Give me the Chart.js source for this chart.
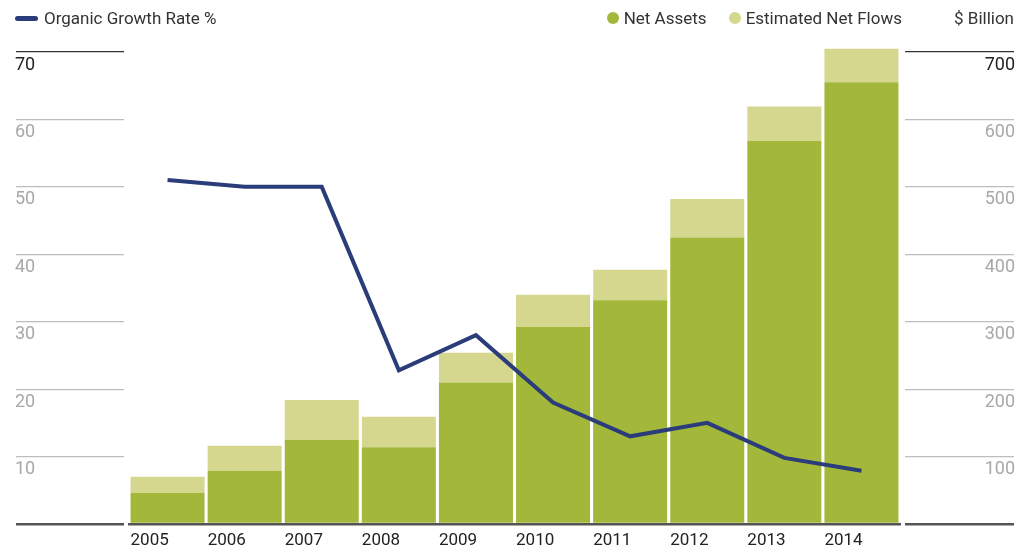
<!DOCTYPE html>
<html>
<head>
<meta charset="utf-8">
<script src="https://cdn.jsdelivr.net/npm/chart.js@4/dist/chart.umd.min.js"></script>
<style>
    html, body { margin: 0; padding: 0; background: #fff; }
    #wrap { position: relative; width: 1029px; height: 550px; font-family: 'Roboto', 'Liberation Sans', sans-serif; }
    #chart { position: absolute; left: 0; top: 0; }
    .legend { position: absolute; top: 8px; font-size: 17px; color: #333; display: flex; align-items: center; white-space: nowrap; }
    .legend .item { display: flex; align-items: center; }
    .legend .line { width: 23px; height: 5px; border-radius: 3px; margin-right: 6px; }
    .legend .dot { width: 12px; height: 12px; border-radius: 50%; margin-right: 5px; }
</style>
</head>
<body>
<div id="wrap">
    <canvas id="chart" width="1029" height="550"></canvas>
    <div class="legend" id="legLeft" style="left:15px"></div>
    <div class="legend" id="legRight" style="right:127px"></div>
    <div class="legend" style="right:15px">$ Billion</div>
</div>
<script>
const years = ['2005', '2006', '2007', '2008', '2009', '2010', '2011', '2012', '2013', '2014'];
const netAssets = [46, 79, 125, 114, 210, 292, 332, 425, 568, 655];
const netFlows = [24, 37, 59, 45, 44, 48, 45, 57, 51, 50];
const growthRate = [51.0, 50.0, 50.0, 22.8, 28.0, 18.0, 13.0, 15.0, 9.8, 7.9];

const pctTicks = [0, 10, 20, 30, 40, 50, 60, 70];
const bnTicks = [0, 100, 200, 300, 400, 500, 600, 700];

const NAVY = '#2b3c7a';
const GREEN = '#a3b73a';
const LIGHT = '#d6d78e';

(function () {
    function gridColor(ctx, top) {
        const v = ctx.tick ? ctx.tick.value : null;
        if (v === top) return '#333';
        if (v === 0) return '#555';
        return '#bdbdbd';
    }
    function gridWidth(ctx) {
        return ctx.tick && ctx.tick.value === 0 ? 2.5 : 1.2;
    }
    function tickColor(ctx, top) {
        return ctx.tick && ctx.tick.value === top ? '#222' : '#a8a8a8';
    }

    function yAxis(position, max, width, tickLen) {
        const top = max;
        return {
            position,
            min: 0,
            max,
            afterFit: s => { s.width = width; },
            afterBuildTicks: s => {
                const list = position === 'left' ? pctTicks : bnTicks;
                s.ticks = list.map(v => ({ value: v }));
            },
            border: { display: true, width: 10, color: 'rgba(0,0,0,0)' },
            grid: {
                drawOnChartArea: false,
                drawTicks: true,
                tickLength: tickLen,
                color: ctx => gridColor(ctx, top),
                tickColor: ctx => gridColor(ctx, top),
                lineWidth: gridWidth,
                tickWidth: gridWidth
            },
            ticks: {
                crossAlign: 'far',
                labelOffset: 13,
                padding: 0,
                font: { size: 18 },
                color: ctx => tickColor(ctx, top),
                callback: v => (v === 0 ? '' : v)
            }
        };
    }

    const legLeft = document.getElementById('legLeft');
    legLeft.innerHTML = '<span class="item"><span class="line" style="background:' + NAVY + '"></span>Organic Growth Rate %</span>';
    const legRight = document.getElementById('legRight');
    legRight.innerHTML =
        '<span class="item"><span class="dot" style="background:' + GREEN + '"></span>Net Assets</span>' +
        '<span class="item" style="margin-left:22px"><span class="dot" style="background:' + LIGHT + '"></span>Estimated Net Flows</span>';

    Chart.defaults.font.family = "'Roboto', 'Liberation Sans', sans-serif";
    Chart.defaults.color = '#222';

    new Chart(document.getElementById('chart'), {
        data: {
            labels: years,
            datasets: [
                {
                    type: 'line',
                    label: 'Organic Growth Rate %',
                    data: growthRate,
                    yAxisID: 'y',
                    borderColor: NAVY,
                    borderWidth: 4,
                    pointRadius: 0,
                    tension: 0,
                    order: 0
                },
                {
                    type: 'bar',
                    label: 'Net Assets',
                    data: netAssets,
                    yAxisID: 'y1',
                    backgroundColor: GREEN,
                    stack: 'a',
                    barPercentage: 0.96,
                    categoryPercentage: 1,
                    clip: false,
                    order: 1
                },
                {
                    type: 'bar',
                    label: 'Estimated Net Flows',
                    data: netFlows,
                    yAxisID: 'y1',
                    backgroundColor: LIGHT,
                    stack: 'a',
                    barPercentage: 0.96,
                    categoryPercentage: 1,
                    clip: false,
                    order: 1
                }
            ]
        },
        options: {
            responsive: false,
            animation: false,
            layout: { padding: { left: 15, right: 14, top: 52, bottom: 0 } },
            plugins: { legend: { display: false }, tooltip: { enabled: false } },
            scales: {
                x: {
                    stacked: true,
                    afterFit: s => { s.height = 26; },
                    border: { display: true, color: '#555', width: 2.5 },
                    grid: { display: false, drawTicks: false },
                    ticks: {
                        align: 'start',
                        labelOffset: -37,
                        padding: 7,
                        maxRotation: 0,
                        autoSkip: false,
                        font: { size: 17 },
                        color: '#222'
                    }
                },
                y: yAxis('left', 70, 114, 113),
                y1: Object.assign(yAxis('right', 700, 115, 114), { stacked: true })
            }
        }
    });
})();
</script>
</body>
</html>
